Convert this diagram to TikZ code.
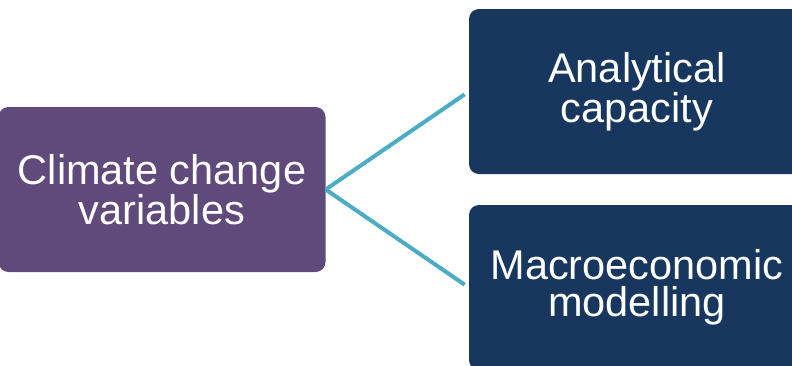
\documentclass[tikz,border=0pt]{standalone}
\usepackage{fontspec}
\setmainfont{Liberation Sans}

\definecolor{climatepurple}{HTML}{604A7B}
\definecolor{topicnavy}{HTML}{17375E}
\definecolor{linkteal}{HTML}{4BACC6}

\def\boxheight{165pt}

\begin{document}
\begin{tikzpicture}[x=1pt,y=-1pt]
    \tikzstyle{box}=[rectangle,rounded corners=10pt,minimum height=\boxheight,inner sep=0pt,
        text=white,align=center,font=\fontsize{41.5}{37}\selectfont]
    \tikzstyle{source box}=[box,fill=climatepurple,minimum width=327pt];
    \tikzstyle{topic box}=[box,fill=topicnavy,minimum width=336pt];
    \tikzstyle{link}=[draw=linkteal,line width=4pt,shorten >=5pt]

    % Page frame, the right boxes run off the edge
    \useasboundingbox (0,0) rectangle (792,365);
    \clip (0,0) rectangle (792,365);

    % Draw the source node
    \node[source box] (climate) at (162,189.5) {Climate change\\variables};

    % Draw the two topic nodes
    \node[topic box] (analytic) at (637,91.5) {Analytical\\capacity};
    \node[topic box] (macro) at (637,287.5) {Macroeconomic\\modelling};

    % Connect the source with every topic
    \foreach \dest in {analytic,macro}
        \path[link] (climate.east) -- (\dest.west);
\end{tikzpicture}
\end{document}
